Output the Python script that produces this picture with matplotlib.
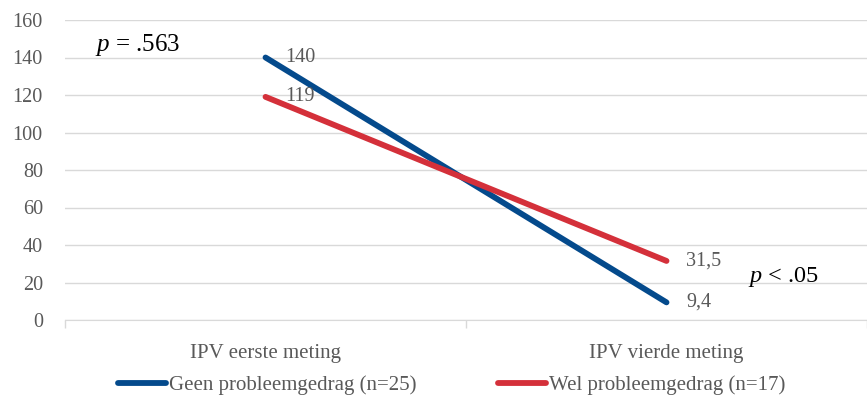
import numpy as np
import matplotlib.pyplot as plt

plt.rcParams['font.family'] = ['Liberation Serif', 'DejaVu Serif']
plt.rcParams['mathtext.fontset'] = 'custom'
plt.rcParams['mathtext.it'] = 'Liberation Serif:italic'
plt.rcParams['mathtext.rm'] = 'Liberation Serif'

categories = ['IPV eerste meting', 'IPV vierde meting']
geen = [140, 9.4]
wel = [119, 31.5]
geen_labels = ['140', '9,4']
wel_labels = ['119', '31,5']
series_names = ['Geen probleemgedrag (n=25)', 'Wel probleemgedrag (n=17)']

blue = '#044a8c'
red = '#d4303a'
grey = '#595959'

fig = plt.figure(figsize=(8.67, 4), dpi=100)
ax = fig.add_axes([0.075, 0.2, 0.925, 0.75])

x = np.arange(len(categories))
l1, = ax.plot(x, geen, color=blue, lw=4.2, solid_capstyle='round')
l2, = ax.plot(x, wel, color=red, lw=4.2, solid_capstyle='round')

for xi, v, t in zip(x, geen, geen_labels):
    ax.annotate(t, (xi, v), xytext=(14, 0), textcoords='offset points',
                va='center', ha='left', fontsize=14.5, color=grey)
for xi, v, t in zip(x, wel, wel_labels):
    ax.annotate(t, (xi, v), xytext=(14, 0), textcoords='offset points',
                va='center', ha='left', fontsize=14.5, color=grey)

ax.set_xlim(-0.5, 1.5)
ax.set_ylim(0, 160)
ax.set_yticks(range(0, 161, 20))
ax.yaxis.grid(True, color='#d9d9d9', lw=1)
ax.set_axisbelow(True)
for s in ['top', 'right', 'left']:
    ax.spines[s].set_visible(False)
ax.spines['bottom'].set_color('#d9d9d9')
ax.tick_params(axis='y', length=0, labelsize=14.5, labelcolor=grey, pad=16)
ax.set_xticks(x)
ax.set_xticklabels(categories, fontsize=15, color=grey)
ax.tick_params(axis='x', length=0, pad=17)
# category separators
ax.set_xticks([-0.5, 0.5, 1.5], minor=True)
ax.tick_params(axis='x', which='minor', length=6, color='#d9d9d9', width=1)

ax.text(0.037, 0.915, r'$p$ = .563', transform=ax.transAxes,
        fontsize=18, va='center', ha='left', color='black')
ax.text(0.852, 0.143, r'$p$ < .05', transform=ax.transAxes,
        fontsize=17.5, va='center', ha='left', color='black')

fig.legend([l1, l2], series_names, loc='center', bbox_to_anchor=(0.521, 0.036),
           ncol=2, frameon=False, fontsize=15, labelcolor=grey,
           handlelength=2.3, handletextpad=0.15, columnspacing=3.9)

fig.savefig('out.png', dpi=100)
